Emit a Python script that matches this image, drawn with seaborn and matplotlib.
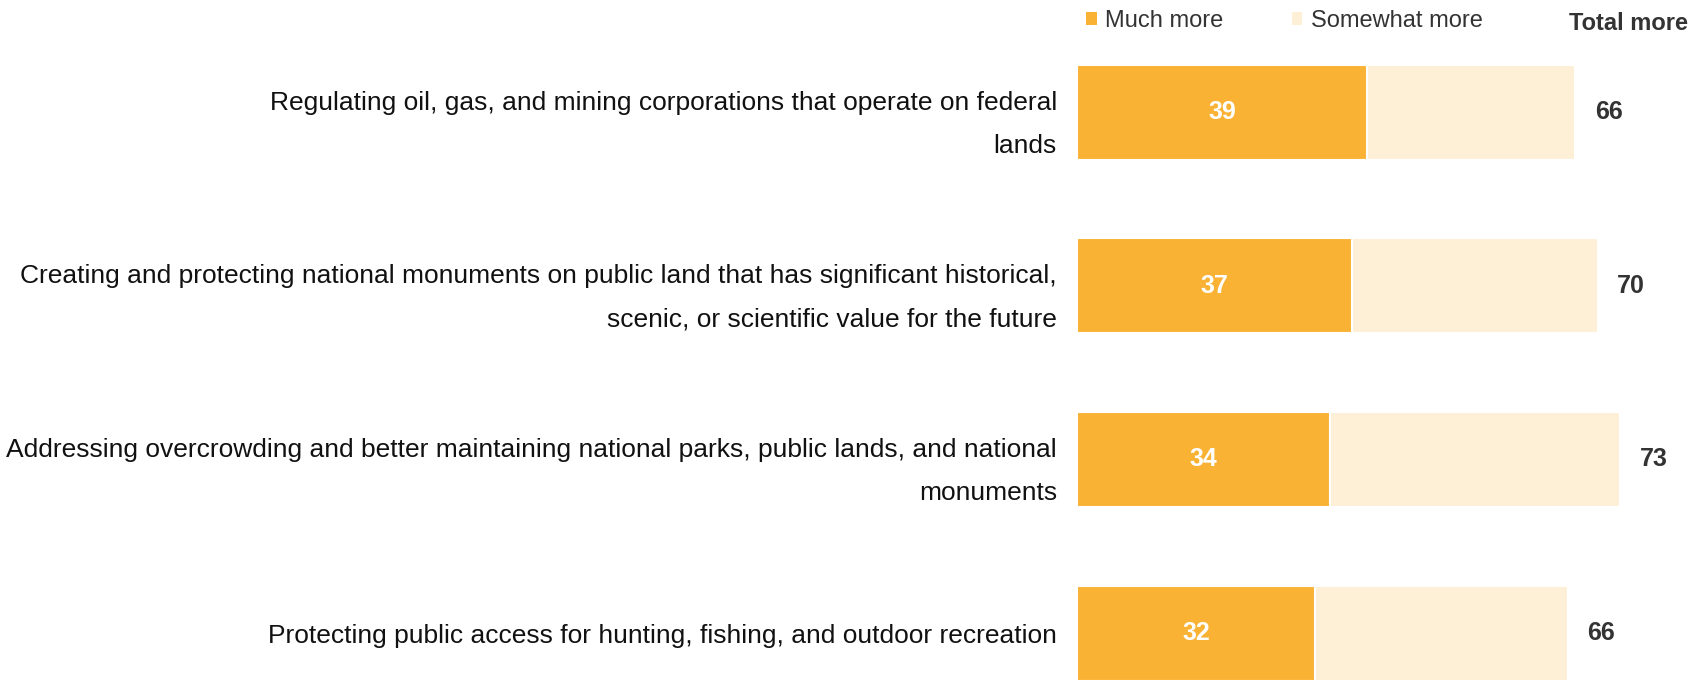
import matplotlib
matplotlib.use("Agg")
import matplotlib.pyplot as plt
from matplotlib import font_manager
from matplotlib.patches import Patch
import seaborn as sns
import pandas as pd

categories = [
    "Regulating oil, gas, and mining corporations that operate on federal\nlands",
    "Creating and protecting national monuments on public land that has significant historical,\nscenic, or scientific value for the future",
    "Addressing overcrowding and better maintaining national parks, public lands, and national\nmonuments",
    "Protecting public access for hunting, fishing, and outdoor recreation",
]
much_more = [39, 37, 34, 32]
somewhat_more = [28, 33, 39, 34]
total_more = [66, 70, 73, 66]
series_names = ["Much more", "Somewhat more"]
total_title = "Total more"

ORANGE = "#F9B234"
CREAM = "#FEEFD7"

sns.set_theme(style="white")
plt.rcParams["font.family"] = ["Liberation Sans", "DejaVu Sans"]

W, H = 1694, 681
fig = plt.figure(figsize=(W / 100, H / 100), dpi=100)
x0 = 1077
ax = fig.add_axes([x0 / W, 0, 1 - x0 / W, 1])

df = pd.DataFrame({"cat": categories, "much": much_more,
                   "somewhat": somewhat_more, "total": total_more})
df["stack"] = df["much"] + df["somewhat"]

sns.barplot(data=df, y="cat", x="stack", color=CREAM, saturation=1, width=0.547,
            orient="h", edgecolor="white", linewidth=1.5, ax=ax)
sns.barplot(data=df, y="cat", x="much", color=ORANGE, saturation=1, width=0.547,
            orient="h", edgecolor="white", linewidth=1.5, ax=ax)

ax.set_xlim(0, (W - x0) / 7.44)
ax.set_ylim(3.276, -0.645)
ax.set_xlabel("")
ax.set_ylabel("")
ax.set_xticks([])
ax.tick_params(axis="y", length=0, pad=14.5, labelsize=19, labelcolor="#111111")
for lab in ax.get_yticklabels():
    lab.set_linespacing(2.0)
for s in ax.spines.values():
    s.set_visible(False)

for i, r in df.iterrows():
    ax.text(r["much"] / 2, i, f"{r['much']}", ha="center", va="center",
            color="white", fontsize=18, fontweight="bold")
    ax.text(r["stack"] + 2.6, i, f"{r['total']}", ha="left", va="center",
            color="#333333", fontsize=18, fontweight="bold")

handles = [Patch(facecolor=ORANGE, edgecolor="none", label=series_names[0]),
           Patch(facecolor=CREAM, edgecolor="none", label=series_names[1])]
leg = ax.legend(handles=handles, ncol=2, loc="center left",
                bbox_to_anchor=(1086 / W, 1 - 21 / H), bbox_transform=fig.transFigure,
                frameon=False, fontsize=17, handlelength=0.45, handleheight=0.45,
                handletextpad=0.35, columnspacing=2.9, borderpad=0, borderaxespad=0)
for t in leg.get_texts():
    t.set_color("#333333")
fig.text(1688 / W, 1 - 23 / H, total_title, ha="right", va="center",
         fontsize=17, fontweight="bold", color="#333333")

fig.savefig("out.png", dpi=100, facecolor="white")
